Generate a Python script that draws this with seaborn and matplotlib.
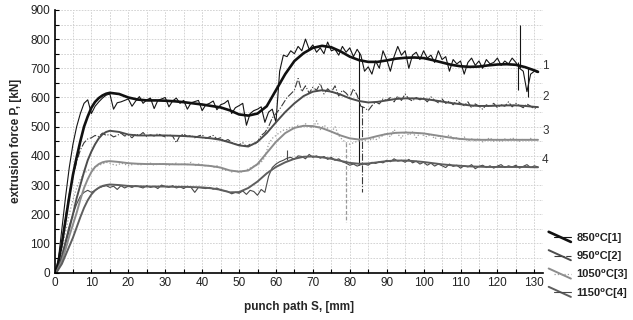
import numpy as np
import pandas as pd
import matplotlib
matplotlib.use("Agg")
import matplotlib.pyplot as plt
import seaborn as sns
from matplotlib.legend_handler import HandlerBase
from matplotlib.lines import Line2D
from matplotlib.ticker import MultipleLocator

# ---- data -----------------------------------------------------------------
temps = ["850\u2070C[1]", "950\u2070C[2]", "1050\u2070C[3]", "1150\u2070C[4]"]
curve_ids = ["1", "2", "3", "4"]

# fitted (smoothed) force curves
fit_s = [0.5, 2, 3, 4, 5, 6, 7, 8, 9, 10, 11, 12, 13, 14, 15, 17.5, 20, 22.5, 25,
         27.5, 30, 32.5, 35, 37.5, 40, 42.5, 45, 47.5, 50, 52.5, 55, 57.5, 60,
         62.5, 65, 67.5, 70, 72.5, 75, 77.5, 80, 82.5, 85, 87.5, 90, 92.5, 95,
         97.5, 100, 102.5, 105, 107.5, 110, 112.5, 115, 117.5, 120, 122.5, 125,
         127.5, 130, 131]
fit_850 = [0, 100, 180, 260, 335, 395, 450, 500, 535, 565, 585, 598, 607, 613, 616,
           612, 600, 593, 590, 590, 589, 587, 584, 580, 576, 571, 566, 556, 542,
           538, 545, 570, 625, 680, 725, 752, 770, 777, 772, 758, 740, 728, 722,
           722, 727, 733, 736, 737, 735, 728, 720, 712, 707, 705, 706, 710, 713,
           714, 712, 704, 693, 688]
fit_950 = [0, 50, 100, 150, 200, 255, 300, 345, 385, 415, 440, 460, 474, 482, 486,
           482, 473, 470, 470, 470, 470, 469, 468, 466, 463, 460, 455, 446, 436,
           432, 448, 478, 515, 550, 580, 605, 620, 625, 620, 610, 597, 588, 583,
           585, 590, 595, 597, 597, 595, 591, 586, 581, 577, 573, 571, 571, 572,
           573, 573, 571, 568, 567]
fit_1050 = [0, 40, 80, 125, 165, 205, 250, 290, 320, 345, 362, 372, 378, 381, 382,
            379, 375, 373, 372, 372, 372, 371, 371, 370, 368, 365, 360, 350, 346,
            350, 372, 410, 448, 478, 496, 503, 502, 495, 483, 470, 460, 456, 460,
            468, 475, 479, 480, 479, 477, 472, 467, 462, 458, 456, 455, 455, 455,
            455, 455, 455, 455, 455]
fit_1150 = [0, 30, 60, 90, 120, 155, 190, 222, 248, 268, 282, 291, 297, 300, 302,
            300, 297, 296, 295, 295, 295, 294, 294, 293, 292, 289, 284, 275, 276,
            290, 312, 340, 362, 378, 390, 397, 398, 395, 390, 383, 376, 373, 374,
            378, 382, 384, 384, 382, 379, 375, 371, 368, 366, 364, 363, 362, 362,
            362, 362, 362, 361, 361]

# measured force, one reading per mm of punch path (0 ... 131 mm)
meas_s = list(range(0, 132))
meas_850 = [0, 40, 150, 260, 360, 440, 500, 545, 580, 592, 545, 570, 585, 598, 608,
            612, 560, 582, 585, 590, 595, 570, 588, 603, 580, 592, 598, 562, 590,
            595, 600, 568, 588, 598, 580, 590, 560, 582, 586, 590, 555, 575, 580,
            588, 558, 575, 580, 590, 545, 565, 572, 580, 505, 545, 555, 560, 568,
            515, 550, 560, 515, 690, 745, 740, 760, 750, 775, 760, 800, 765, 780,
            755, 770, 750, 790, 760, 765, 745, 775, 755, 770, 740, 765, 745, 690,
            705, 680, 725, 700, 760, 730, 690, 740, 775, 745, 760, 700, 745, 755,
            730, 760, 735, 745, 720, 760, 730, 740, 690, 730, 715, 725, 680, 720,
            735, 710, 725, 700, 730, 715, 720, 735, 710, 725, 715, 735, 720, 700,
            690, 620, 680, 690, 685]
meas_950 = [0, 30, 100, 190, 270, 330, 380, 420, 445, 458, 462, 470, 466, 478, 470,
            474, 465, 470, 478, 468, 472, 462, 475, 470, 480, 466, 472, 468, 476,
            470, 465, 472, 468, 445, 470, 475, 466, 470, 462, 468, 472, 460, 465,
            470, 458, 462, 450, 456, 446, 440, 438, 445, 432, 440, 438, 448, 470,
            480, 500, 530, 545, 560, 580, 600, 612, 625, 665, 620, 640, 615, 635,
            625, 648, 612, 630, 618, 640, 605, 625, 615, 600, 630, 608, 570, 565,
            555, 572, 585, 578, 595, 590, 600, 585, 605, 590, 612, 595, 588, 600,
            592, 598, 585, 602, 590, 582, 595, 580, 588, 575, 590, 580, 572, 585,
            565, 578, 570, 560, 575, 568, 580, 565, 575, 570, 585, 568, 580, 572,
            565, 578, 570, 562, 568]
meas_1050 = [0, 25, 75, 140, 200, 250, 290, 320, 340, 350, 355, 362, 368, 372, 378,
             375, 370, 368, 375, 372, 366, 370, 374, 368, 372, 370, 375, 368, 372,
             374, 370, 368, 372, 375, 368, 374, 370, 378, 366, 372, 370, 365, 368,
             360, 366, 358, 350, 352, 345, 348, 344, 346, 352, 358, 365, 368, 378,
             395, 440, 460, 470, 480, 488, 490, 500, 495, 505, 498, 510, 500, 495,
             520, 490, 505, 495, 480, 500, 470, 455, 445, 440, 445, 450, 452, 455,
             448, 460, 455, 462, 470, 478, 465, 490, 475, 460, 485, 470, 482, 462,
             478, 470, 465, 475, 458, 468, 455, 465, 472, 458, 462, 455, 465, 450,
             458, 452, 460, 448, 456, 462, 450, 455, 448, 458, 452, 462, 455, 450,
             458, 452, 460, 454, 456]
meas_1150 = [0, 20, 60, 110, 160, 200, 235, 262, 275, 282, 275, 282, 290, 295, 298,
             292, 296, 285, 298, 290, 296, 292, 298, 294, 290, 298, 292, 296, 288,
             300, 295, 292, 298, 290, 294, 288, 296, 292, 275, 292, 290, 288, 292,
             286, 290, 282, 280, 278, 270, 275, 272, 280, 268, 282, 278, 265, 285,
             275, 330, 360, 372, 380, 385, 392, 395, 388, 400, 398, 390, 405, 395,
             400, 392, 398, 388, 395, 385, 390, 380, 375, 368, 372, 365, 370, 372,
             368, 378, 374, 380, 376, 385, 380, 390, 382, 385, 378, 388, 376, 382,
             372, 378, 368, 375, 365, 372, 366, 360, 372, 364, 368, 358, 366, 362,
             370, 356, 364, 368, 360, 366, 358, 365, 370, 360, 366, 362, 368, 358,
             364, 370, 360, 366, 362]

# sudden load drops / peaks recorded by the press: position, from, to
jump_850_s, jump_850_from, jump_850_to = [82.6, 126.0, 125.6, 128.4], [757, 700, 720, 700], [368, 848, 626, 603]
jump_950_s, jump_950_from, jump_950_to = [83.2], [570], [277]
jump_1050_s, jump_1050_from, jump_1050_to = [79.0], [444], [175]
jump_1150_s, jump_1150_from, jump_1150_to = [62.9], [385], [420]

label_pos_y = [708, 601, 485, 386]

# ---- styling --------------------------------------------------------------
sns.set_theme(style="white")
plt.rcParams["font.family"] = ["Liberation Sans", "DejaVu Sans"]

fit_colors = ["#111111", "#4d4d4d", "#8c8c8c", "#5e5e5e"]
fit_widths = [1.9, 1.4, 1.4, 1.4]
meas_colors = ["#151515", "#3a3a3a", "#9a9a9a", "#4a4a4a"]
meas_styles = ["-", "-.", ":", "-"]
meas_widths = [0.8, 0.8, 0.9, 0.8]

fig = plt.figure(figsize=(6.33, 3.2), dpi=100)
ax = fig.add_axes([0.0861, 0.148, 0.772, 0.821])

fits = [fit_850, fit_950, fit_1050, fit_1150]
meas = [meas_850, meas_950, meas_1050, meas_1150]
jumps = [(jump_850_s, jump_850_from, jump_850_to),
         (jump_950_s, jump_950_from, jump_950_to),
         (jump_1050_s, jump_1050_from, jump_1050_to),
         (jump_1150_s, jump_1150_from, jump_1150_to)]

# measured traces first, fitted curves on top
for i in range(4):
    df = pd.DataFrame({"S": meas_s, "P": meas[i]})
    sns.lineplot(data=df, x="S", y="P", ax=ax, color=meas_colors[i],
                 lw=meas_widths[i], linestyle=meas_styles[i], errorbar=None)
    js, jf, jt = jumps[i]
    ax.vlines(js, jf, jt, colors=meas_colors[i], lw=meas_widths[i],
              linestyles=meas_styles[i] if meas_styles[i] != ":" else (0, (3, 1.5)))

for i in range(4):
    df = pd.DataFrame({"S": fit_s, "P": fits[i]})
    sns.lineplot(data=df, x="S", y="P", ax=ax, color=fit_colors[i],
                 lw=fit_widths[i], errorbar=None)

ax.set_xlim(0, 132.4)
ax.set_ylim(0, 900)
ax.xaxis.set_major_locator(MultipleLocator(10))
ax.xaxis.set_minor_locator(MultipleLocator(5))
ax.yaxis.set_major_locator(MultipleLocator(100))
ax.yaxis.set_minor_locator(MultipleLocator(50))
ax.grid(True, which="both", color="#cdcdcd", linestyle=(0, (2, 1.5)), lw=0.6)
ax.set_axisbelow(True)

for side in ("top", "right"):
    ax.spines[side].set_visible(False)
for side in ("left", "bottom"):
    ax.spines[side].set_color("black")
    ax.spines[side].set_linewidth(1.2)

ax.tick_params(axis="both", which="both", direction="in", length=3, width=0.8,
               colors="black", labelsize=8.5, pad=3, bottom=True, left=True)
ax.tick_params(axis="both", labelcolor="#222222")

ax.set_xlabel("punch path S, [mm]", fontsize=8.5, fontweight="bold", labelpad=9)
ax.set_ylabel("extrusion force P, [kN]", fontsize=8.5, fontweight="bold", labelpad=6)

for cid, yv in zip(curve_ids, label_pos_y):
    ax.text(133.0, yv, cid, fontsize=8.5, color="#333333", va="center",
            ha="center", clip_on=False)


class PairHandler(HandlerBase):
    def create_artists(self, legend, orig_handle, xdescent, ydescent, width,
                       height, fontsize, trans):
        fit_line, meas_line = orig_handle
        a = Line2D([0, width], [height * 1.15, -0.15 * height],
                   color=fit_line.get_color(), lw=fit_line.get_linewidth(),
                   transform=trans)
        b = Line2D([width * 0.25, width], [height * 0.45, height * 0.45],
                   color=meas_line.get_color(), lw=meas_line.get_linewidth(),
                   linestyle=meas_line.get_linestyle(), transform=trans)
        return [a, b]


handles = []
for i in range(4):
    handles.append((Line2D([], [], color=fit_colors[i], lw=fit_widths[i]),
                    Line2D([], [], color=meas_colors[i], lw=meas_widths[i],
                           linestyle=meas_styles[i])))

leg = fig.legend(handles, temps, handler_map={tuple: PairHandler()},
                 loc="upper left", bbox_to_anchor=(0.858, 0.29),
                 frameon=False, fontsize=8, handlelength=2.0, handletextpad=0.5,
                 labelspacing=0.75, borderpad=0.0)
for t in leg.get_texts():
    t.set_fontweight("bold")
    t.set_color("#222222")

fig.savefig("out.png", dpi=100)
